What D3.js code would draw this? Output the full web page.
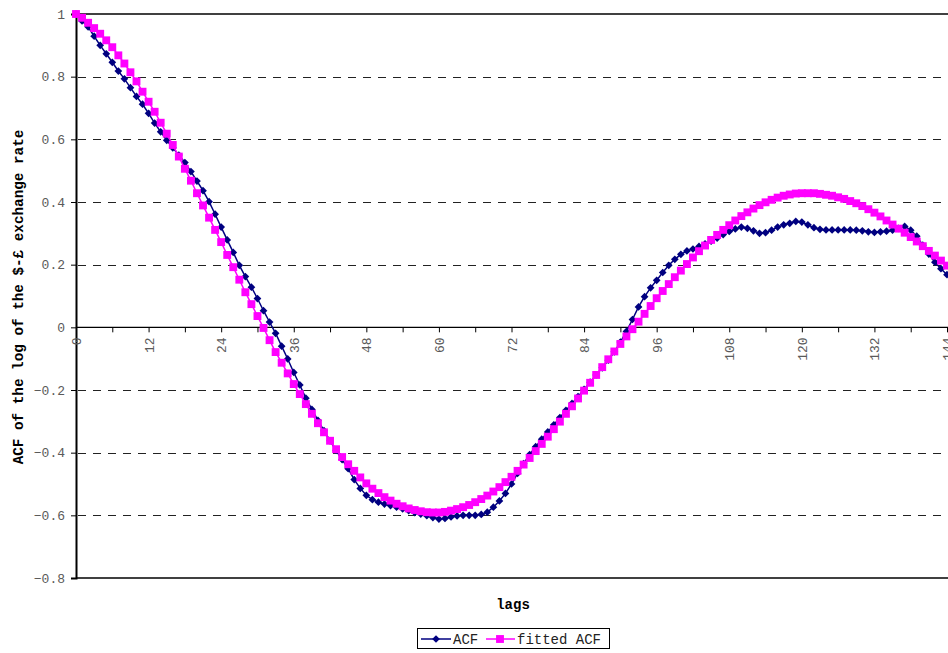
<!DOCTYPE html>
<html><head><meta charset="utf-8">
<script src="https://cdn.jsdelivr.net/npm/d3@7"></script>
<style>html,body{margin:0;padding:0;background:#fff;overflow:hidden}</style>
</head><body>
<svg id="chart" width="948" height="653"></svg>
<script>
const lags = d3.range(0, 145);
const acf = [
 1.000,0.978,0.959,0.929,0.900,0.873,0.846,0.818,0.793,0.765,
 0.737,0.712,0.683,0.652,0.624,0.597,0.573,0.550,0.526,0.497,
 0.467,0.436,0.401,0.361,0.320,0.279,0.239,0.198,0.162,0.128,
 0.092,0.053,0.017,-0.019,-0.060,-0.101,-0.144,-0.184,-0.226,-0.262,
 -0.297,-0.330,-0.362,-0.393,-0.422,-0.451,-0.486,-0.514,-0.536,-0.550,
 -0.558,-0.564,-0.569,-0.574,-0.579,-0.585,-0.591,-0.596,-0.601,-0.607,
 -0.612,-0.610,-0.605,-0.602,-0.600,-0.600,-0.600,-0.597,-0.590,-0.574,
 -0.554,-0.530,-0.500,-0.466,-0.435,-0.406,-0.381,-0.357,-0.334,-0.311,
 -0.288,-0.265,-0.243,-0.221,-0.198,-0.175,-0.152,-0.129,-0.105,-0.078,
 -0.047,-0.013,0.025,0.065,0.098,0.126,0.150,0.175,0.198,0.217,
 0.233,0.244,0.250,0.258,0.266,0.275,0.285,0.296,0.306,0.314,
 0.320,0.316,0.308,0.300,0.302,0.310,0.320,0.327,0.332,0.338,
 0.336,0.327,0.318,0.313,0.311,0.311,0.311,0.311,0.311,0.310,
 0.308,0.305,0.303,0.305,0.307,0.310,0.316,0.322,0.310,0.291,
 0.262,0.234,0.208,0.187,0.168
];
const fittedAcf = [
 1.000,0.988,0.972,0.955,0.937,0.916,0.894,0.868,0.842,0.814,
 0.785,0.752,0.720,0.688,0.653,0.618,0.582,0.545,0.506,0.468,
 0.428,0.389,0.350,0.311,0.272,0.231,0.192,0.152,0.112,0.074,
 0.036,-0.002,-0.041,-0.079,-0.113,-0.147,-0.181,-0.213,-0.245,-0.276,
 -0.306,-0.335,-0.362,-0.389,-0.414,-0.437,-0.458,-0.479,-0.498,-0.515,
 -0.529,-0.542,-0.553,-0.563,-0.571,-0.578,-0.583,-0.587,-0.590,-0.591,
 -0.591,-0.589,-0.585,-0.580,-0.574,-0.567,-0.558,-0.548,-0.537,-0.524,
 -0.510,-0.494,-0.477,-0.458,-0.438,-0.417,-0.395,-0.372,-0.349,-0.325,
 -0.301,-0.276,-0.252,-0.227,-0.202,-0.177,-0.152,-0.127,-0.102,-0.077,
 -0.053,-0.029,-0.006,0.018,0.043,0.068,0.093,0.116,0.138,0.160,
 0.181,0.202,0.223,0.243,0.261,0.279,0.295,0.311,0.326,0.341,
 0.355,0.367,0.379,0.390,0.399,0.407,0.414,0.420,0.424,0.427,
 0.428,0.428,0.428,0.426,0.423,0.420,0.415,0.410,0.403,0.396,
 0.387,0.377,0.366,0.354,0.341,0.328,0.315,0.302,0.288,0.274,
 0.259,0.244,0.229,0.213,0.197
];
const xLabelTicks = [0,12,24,36,48,60,72,84,96,108,120,132,144];
const xTickMarks = [0,6,12,18,24,30,36,42,48,54,60,66,72,78,84,90,96,102,108,114,120,126,132,138,144];
const yTicks = [1,0.8,0.6,0.4,0.2,0,-0.2,-0.4,-0.6,-0.8];
const seriesNames = ["ACF","fitted ACF"];
const seriesColors = ["#000080","#FF00FF"];
const yTitle = "ACF of the log of the $-£ exchange rate";
const xTitle = "lags";

const FONT = "'Liberation Mono','Courier New',monospace";
const svg = d3.select("#chart");
const x = d3.scaleLinear().domain([0,144]).range([76,947]);
const y = d3.scaleLinear().domain([-0.8,1]).range([578,14]);
const right = 1000;

// gridlines
svg.append("g").selectAll("line")
  .data(yTicks.filter(v => v !== 1 && v !== 0 && v !== -0.8))
  .join("line")
  .attr("x1", 78).attr("x2", right)
  .attr("y1", d => Math.round(y(d)) + 0.5).attr("y2", d => Math.round(y(d)) + 0.5)
  .attr("stroke", "#222").attr("stroke-width", 1)
  .attr("stroke-dasharray", "8,7");

// plot border top & bottom
svg.append("line").attr("x1",76).attr("x2",right).attr("y1",y(1)).attr("y2",y(1)).attr("stroke","#000").attr("stroke-width",1.3);
svg.append("line").attr("x1",76).attr("x2",right).attr("y1",y(-0.8)).attr("y2",y(-0.8)).attr("stroke","#000").attr("stroke-width",1.3);

// y axis
const yAxis = svg.append("g").attr("transform","translate(76,0)")
  .call(d3.axisLeft(y).tickValues(yTicks).tickSize(5).tickPadding(6)
    .tickFormat(d => d < 0 ? "\u2212" + String(-d) : String(d)));
yAxis.select(".domain").attr("stroke","#000").attr("stroke-width",2);
yAxis.selectAll(".tick line").attr("stroke","#000");
yAxis.selectAll("text").attr("font-family",FONT).attr("font-size",13).attr("fill","#5a5a5a");

// x axis at y=0
const xAxis = svg.append("g").attr("transform",`translate(0,${y(0)})`)
  .call(d3.axisBottom(x).tickValues(xTickMarks).tickSize(5)
    .tickFormat(d => xLabelTicks.includes(d) ? String(d) : ""));
xAxis.select(".domain").attr("d", `M76,0H${right}`).attr("stroke","#000").attr("stroke-width",1.3);
xAxis.selectAll(".tick line").attr("stroke","#000");
xAxis.selectAll("text")
  .attr("font-family",FONT).attr("font-size",13).attr("fill","#5a5a5a")
  .attr("transform","rotate(-90)")
  .attr("text-anchor","end")
  .attr("x",-10).attr("y",0).attr("dy","0.35em");

// series
const series = [acf, fittedAcf];
const line = d3.line().x((d,i) => x(lags[i])).y(d => y(d));
const symFor = si => si === 0 ? d3.symbol(d3.symbolSquare, 30) : d3.symbol(d3.symbolSquare, 62);
series.forEach((vals, si) => {
  const g = svg.append("g");
  g.append("path").datum(vals).attr("d", line)
    .attr("fill","none").attr("stroke",seriesColors[si]).attr("stroke-width",1.5);
  g.selectAll("path.m").data(vals).join("path").attr("class","m")
    .attr("d", symFor(si))
    .attr("transform", (d,i) => `translate(${x(lags[i])},${y(d)})` + (si===0 ? " rotate(45)" : ""))
    .attr("fill", seriesColors[si]);
});

// titles
svg.append("text").attr("transform",`translate(18,297) rotate(-90)`)
  .attr("text-anchor","middle").attr("dy","0.35em")
  .attr("font-family",FONT).attr("font-weight","bold").attr("font-size",14.3)
  .attr("fill","#000").text(yTitle);
svg.append("text").attr("x",513).attr("y",604).attr("dy","0.35em")
  .attr("text-anchor","middle")
  .attr("font-family",FONT).attr("font-weight","bold").attr("font-size",14)
  .attr("fill","#000").text(xTitle);

// legend
const lg = svg.append("g");
lg.append("rect").attr("x",417.5).attr("y",628.5).attr("width",192).attr("height",20)
  .attr("fill","#fff").attr("stroke","#000").attr("stroke-width",1);
const legendItems = [
  {x1:421, x2:451, mx:436, tx:453},
  {x1:486, x2:515, mx:500, tx:517}
];
legendItems.forEach((it, si) => {
  lg.append("line").attr("x1",it.x1).attr("x2",it.x2).attr("y1",639).attr("y2",639)
    .attr("stroke",seriesColors[si]).attr("stroke-width",1.5);
  lg.append("path")
    .attr("d", symFor(si)())
    .attr("transform",`translate(${it.mx},639)` + (si===0 ? " rotate(45)" : ""))
    .attr("fill",seriesColors[si]);
  lg.append("text").attr("x",it.tx).attr("y",639).attr("dy","0.35em")
    .attr("font-family",FONT).attr("font-size",14).attr("fill","#222")
    .text(seriesNames[si]);
});
</script>
</body></html>
